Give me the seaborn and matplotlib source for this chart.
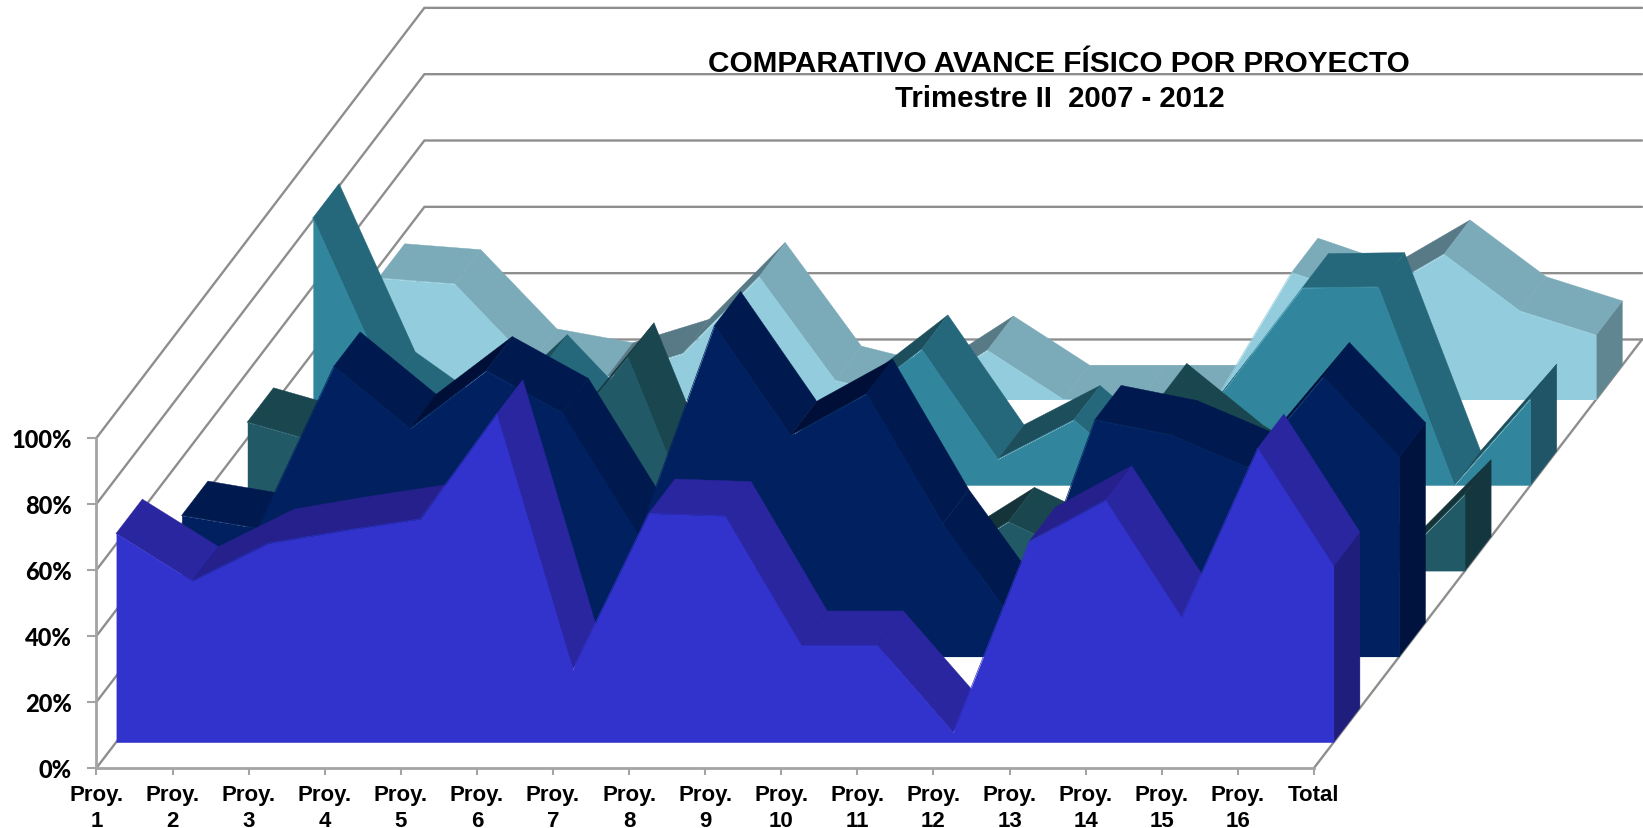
import numpy as np
import pandas as pd
import matplotlib
matplotlib.use("Agg")
import matplotlib.pyplot as plt
import seaborn as sns

# ---- data (fractions of 100 %) ----
categories = [f"Proy.\n{i}" for i in range(1, 17)] + ["Total"]
serie_azul = [.633, .489, .603, .642, .677, .995, .221, .694, .686, .294, .294, .03, .609, .734, .378, .891, .533]
serie_marino = [.428, .389, .88, .691, .866, .739, .367, 1.003, .67, .797, .402, .085, .718, .672, .574, .848, .605]
serie_verde = [.451, .385, .3, .3, .367, .648, .08, .2, .15, .004, .149, .04, .525, .338, .2, 0, .233]
serie_teal = [.81, .30, .136, .352, .11, .1, .05, .233, .412, .079, .198, 0, .295, .598, .601, 0, .263]
serie_celeste = [.368, .35, .11, .068, .139, .372, .058, 0, .149, 0, 0, 0, .385, .306, .44, .268, .195]
y_ticks = [0, 20, 40, 60, 80, 100]
y_labels = ["0%", "20%", "40%", "60%", "80%", "100%"]
title_1 = "COMPARATIVO AVANCE FÍSICO POR PROYECTO"
title_2 = "Trimestre II  2007 - 2012"

# ---- styles: front, falling facet, rising facet, end cap ----
styles = [
    ("#3232CC", "#2A26A0", "#25208C", "#1F1E7C"),
    ("#012060", "#001A50", "#000F38", "#00133E"),
    ("#215966", "#1A464F", "#143439", "#14373F"),
    ("#31859C", "#26687B", "#1C4E5C", "#1F5566"),
    ("#93CDDD", "#7BAAB9", "#587A86", "#5F8691"),
]
series = [serie_azul, serie_marino, serie_verde, serie_teal, serie_celeste]

# ---- oblique layout ----
W, H = 1643, 829
X0, STEP, Y0, PCT = 96.4, 76.1, 769.0, 3.30
DEPTH_X = 328 / STEP          # full floor depth in category units
DEPTH_Y = 428.5 / PCT         # full floor depth in percent units
BACK_SCALE = 1.005            # back wall is drawn slightly taller
GAP, THICK, PITCH = 0.06, 0.08, 0.20

sns.set_theme(style="white")
fig = plt.figure(figsize=(W / 100, H / 100), dpi=100)
ax = fig.add_axes([0, 0, 1, 1])
ax.set_xlim(-X0 / STEP, (W - X0) / STEP)
ax.set_ylim((Y0 - H) / PCT, Y0 / PCT)

GRID = "#8E8E8E"
n = len(categories)
for p in y_ticks:
    yb = p * BACK_SCALE + DEPTH_Y
    ax.plot([0, DEPTH_X, n - 1 + DEPTH_X], [p, yb, yb],
            color=GRID, lw=1.7, zorder=1, solid_joinstyle="miter")
ax.plot([n - 1, n - 1 + DEPTH_X], [0, DEPTH_Y], color=GRID, lw=1.7, zorder=1)

xs = np.arange(n, dtype=float)
z = 2
for k in range(4, -1, -1):
    vals = np.asarray(series[k]) * 100
    front, fall, rise, cap = styles[k]
    d0 = GAP + PITCH * k
    ox, oy = d0 * DEPTH_X, d0 * DEPTH_Y
    ex, ey = THICK * DEPTH_X, THICK * DEPTH_Y
    X, Y = xs + ox, vals + oy
    # end cap
    ax.fill([X[-1], X[-1] + ex, X[-1] + ex, X[-1]],
            [oy, oy + ey, Y[-1] + ey, Y[-1]],
            facecolor=cap, edgecolor=cap, lw=.3, zorder=z)
    z += 1
    # top facets, left to right (viewer stands to the right)
    for i in range(n - 1):
        dv = vals[i + 1] - vals[i]
        if dv > ey / ex:      # steeper than the extrusion: faces away
            continue
        c = rise if dv > 1.5 else fall
        ax.fill([X[i], X[i + 1], X[i + 1] + ex, X[i] + ex],
                [Y[i], Y[i + 1], Y[i + 1] + ey, Y[i] + ey],
                facecolor=c, edgecolor=c, lw=.3, zorder=z)
        z += 1
    # front face
    ax.fill_between(X, oy, Y, color=front, lw=0, zorder=z)
    z += 1
    df = pd.DataFrame({"x": X, "y": Y})
    sns.lineplot(data=df, x="x", y="y", color=front, lw=.5, sort=False,
                 estimator=None, ax=ax, zorder=z)
    z += 1
ax.set_xlabel("")
ax.set_ylabel("")

# axes
for s in ("top", "right"):
    ax.spines[s].set_visible(False)
for s in ("left", "bottom"):
    ax.spines[s].set_position(("data", 0))
    ax.spines[s].set_color("#A4A4A4")
    ax.spines[s].set_linewidth(2)
    ax.spines[s].set_zorder(1)
ax.spines["left"].set_bounds(0, 100)
ax.spines["bottom"].set_bounds(0, n - 1)
ax.set_xticks(xs)
ax.set_xticklabels(categories, family="Liberation Sans", fontweight="bold",
                   fontsize=16, ma="center", linespacing=1.3, color="black")
ax.set_yticks(y_ticks)
ax.set_yticklabels(y_labels, family="Lato", fontweight="black", fontsize=17, color="black")
ax.tick_params(axis="x", length=5, width=1.5, color="#A4A4A4", pad=6.5, bottom=True)
ax.tick_params(axis="y", length=6.5, width=1.5, color="#A4A4A4", pad=11, left=True)

ax.text((1059 - X0) / STEP, (Y0 - 64) / PCT, title_1, family="Liberation Sans", fontweight="bold",
        fontsize=21.4, ha="center", va="center", color="black", zorder=z)
ax.text((1060 - X0) / STEP, (Y0 - 99) / PCT, title_2, family="Liberation Sans", fontweight="bold",
        fontsize=21.2, ha="center", va="center", color="black", zorder=z)

fig.savefig("out.png", dpi=100, facecolor="white")
